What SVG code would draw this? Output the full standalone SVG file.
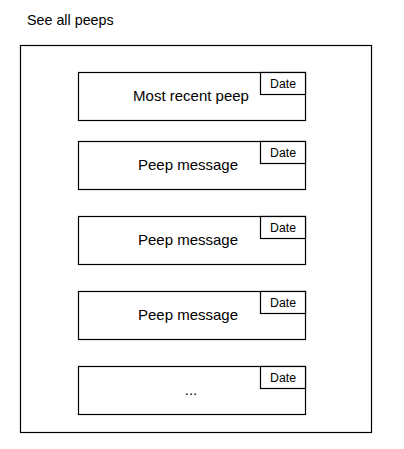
<svg xmlns="http://www.w3.org/2000/svg" width="404" height="449" viewBox="0 0 404 449">
<style>
.b{fill:#fff;stroke:#000;stroke-width:1.2}
.t{font-family:"Liberation Sans",Arial,sans-serif;font-size:15px;fill:#000}
.h{font-family:"Liberation Sans",Arial,sans-serif;font-size:14.3px;fill:#000}
.d{font-family:"Liberation Sans",Arial,sans-serif;font-size:12.3px;fill:#000;text-anchor:middle}
.m{text-anchor:middle}
</style>
<rect width="404" height="449" fill="#fff"/>
<text class="h" x="27" y="25">See all peeps</text>
<g id="container"><rect class="b" x="20.5" y="45.5" width="351" height="387"/></g>
<g id="peep1">
<rect class="b" x="78.5" y="72.5" width="227" height="48"/>
<rect class="b" x="260.5" y="72.5" width="45" height="22"/>
<text class="t m" x="191" y="101">Most recent peep</text>
<text class="d" x="283" y="88">Date</text>
</g>
<g id="peep2">
<rect class="b" x="78.5" y="141.5" width="227" height="48"/>
<rect class="b" x="260.5" y="141.5" width="45" height="22"/>
<text class="t m" x="188" y="170">Peep message</text>
<text class="d" x="283" y="157">Date</text>
</g>
<g id="peep3">
<rect class="b" x="78.5" y="216.5" width="227" height="48"/>
<rect class="b" x="260.5" y="216.5" width="45" height="22"/>
<text class="t m" x="188" y="245">Peep message</text>
<text class="d" x="283" y="232">Date</text>
</g>
<g id="peep4">
<rect class="b" x="78.5" y="291.5" width="227" height="48"/>
<rect class="b" x="260.5" y="291.5" width="45" height="22"/>
<text class="t m" x="188" y="320">Peep message</text>
<text class="d" x="283" y="307">Date</text>
</g>
<g id="peep5">
<rect class="b" x="78.5" y="366.5" width="227" height="48"/>
<rect class="b" x="260.5" y="366.5" width="45" height="22"/>
<text class="t m" x="191" y="395">...</text>
<text class="d" x="283" y="382">Date</text>
</g>
<g id="connectors"/>
</svg>
